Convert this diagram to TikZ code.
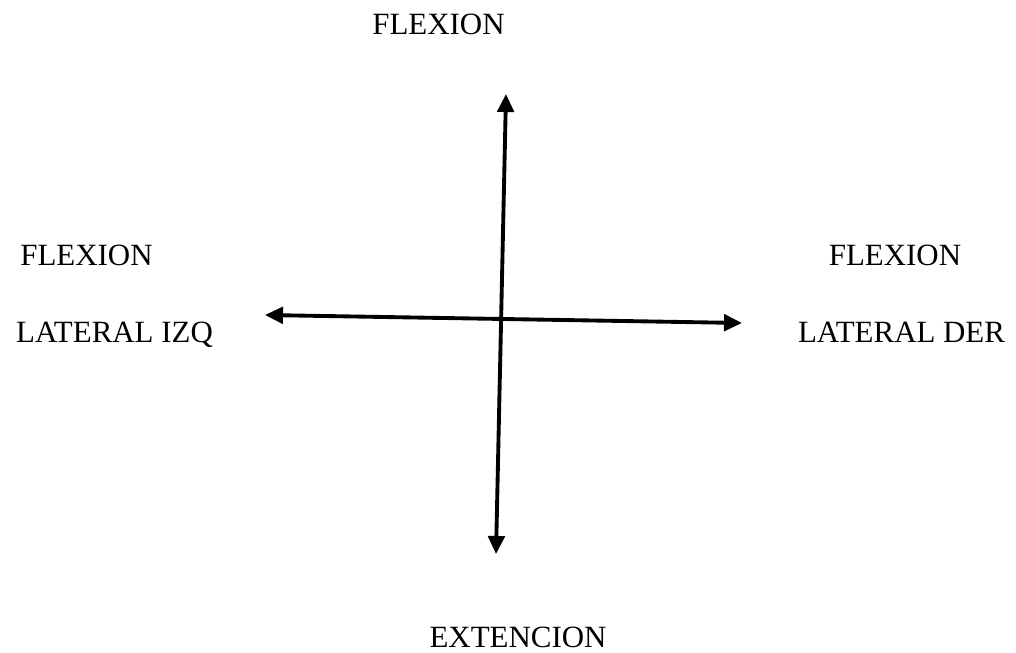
\documentclass[tikz,border=0pt]{standalone}
\usepackage{fontspec}
\setmainfont{Liberation Serif}
\usetikzlibrary{arrows.meta}

\begin{document}
\begin{tikzpicture}[
  x=0.02cm,
  y=-0.02cm,
  font=\rmfamily\fontsize{17.6}{21}\selectfont,
  label/.style={
    anchor=base,
    inner sep=0pt,
    text=black
  },
  axis/.style={
    {Triangle[length=3.6mm,width=3.3mm]}-{Triangle[length=3.6mm,width=3.3mm]},
    draw=black,
    line width=2.2pt
  }
]
\useasboundingbox (0,0) rectangle (1016,652);

% Arrow tips of the two axes.
\coordinate (up)    at (506,94);
\coordinate (down)  at (496,554);
\coordinate (left)  at (265,315);
\coordinate (right) at (742,323);

\draw[axis] (down) -- (up);
\draw[axis] (left) -- (right);

% Labels.
\node[label] (flexion)  at (438.5,35) {FLEXION};
\node[label] (flexizq)  at (86.5,265) {FLEXION};
\node[label] (latizq)   at (114.5,342) {LATERAL IZQ};
\node[label] (flexder)  at (895,265) {FLEXION};
\node[label] (latder)   at (901.5,342) {LATERAL DER};
\node[label] (extencion) at (518,647) {EXTENCION};

\end{tikzpicture}
\end{document}
